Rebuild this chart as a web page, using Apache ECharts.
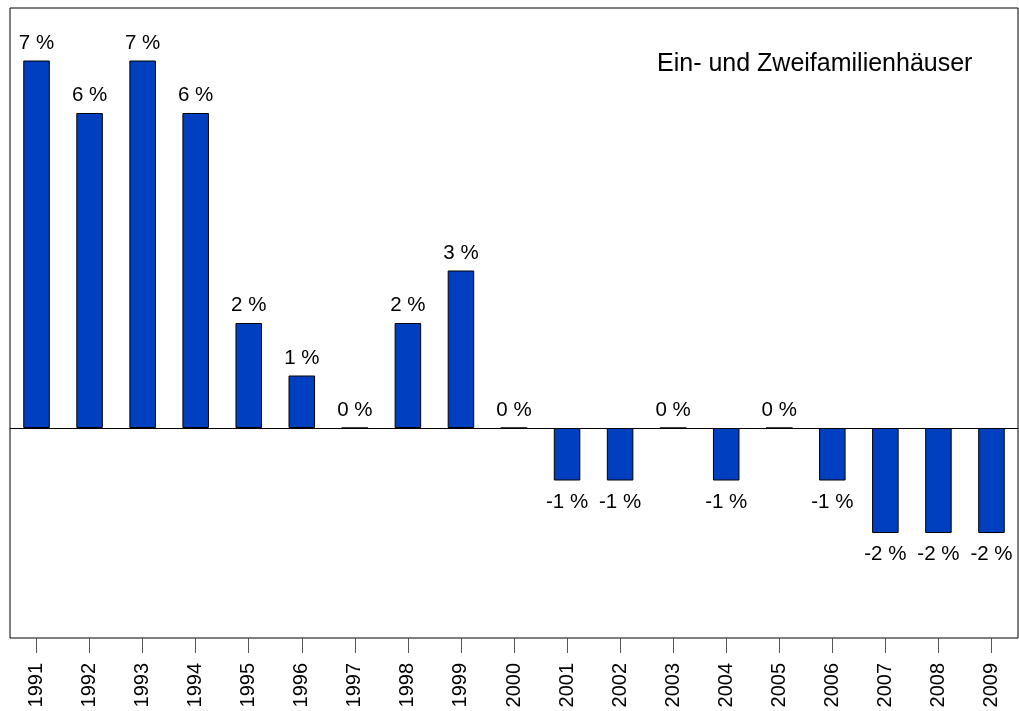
<!DOCTYPE html>
<html>
<head>
<meta charset="utf-8">
<script src="https://cdn.jsdelivr.net/npm/echarts@6/dist/echarts.min.js"></script>
<style>
  html, body { margin: 0; padding: 0; background: #fff; }
  #chart { width: 1019px; height: 711px; }
</style>
</head>
<body>
<div id="chart"></div>
<script>
// Jährliche Veränderung in Prozent
const years = ['1991','1992','1993','1994','1995','1996','1997','1998','1999','2000',
               '2001','2002','2003','2004','2005','2006','2007','2008','2009'];
const changes = [7, 6, 7, 6, 2, 1, 0, 2, 3, 0, -1, -1, 0, -1, 0, -1, -2, -2, -2];
const subtitle = 'Ein- und Zweifamilienhäuser';

const FONT = '"Liberation Sans", Arial, Helvetica, sans-serif';

// Positive and zero values get their label above the bar, negative ones below
const barData = changes.map(v => ({
  value: v,
  label: v < 0 ? { position: 'bottom', distance: 11 } : { position: 'top', distance: 7 }
}));

const chart = echarts.init(document.getElementById('chart'), null, { renderer: 'canvas' });
chart.setOption({
  animation: false,
  backgroundColor: '#ffffff',
  textStyle: { fontFamily: FONT },
  grid: {
    left: 10, right: 1, top: 8, bottom: 73,
    show: true, borderColor: '#000', borderWidth: 1, backgroundColor: 'transparent'
  },
  graphic: [{
    type: 'text',
    left: 657, top: 52,
    style: { text: subtitle, fontFamily: FONT, fontSize: 25, fill: '#000' }
  }],
  xAxis: {
    type: 'category',
    data: years,
    boundaryGap: true,
    axisLine: { show: false, onZero: false },
    axisTick: { show: true, alignWithLabel: true, length: 15, lineStyle: { color: '#555', width: 1 } },
    axisLabel: { rotate: 90, margin: 25, fontSize: 20, color: '#000', fontFamily: FONT }
  },
  yAxis: {
    type: 'value',
    min: -4, max: 8,
    show: false,
    splitLine: { show: false }
  },
  series: [{
    type: 'bar',
    data: barData,
    barWidth: '50%',
    itemStyle: { color: '#0040C0', borderColor: '#000', borderWidth: 1 },
    label: {
      show: true,
      fontSize: 20.5,
      color: '#000',
      fontFamily: FONT,
      formatter: p => p.value + ' %'
    },
    markLine: {
      silent: true,
      symbol: 'none',
      label: { show: false },
      lineStyle: { color: '#000', width: 1, type: 'solid' },
      data: [{ yAxis: 0 }]
    }
  }]
});
</script>
</body>
</html>
